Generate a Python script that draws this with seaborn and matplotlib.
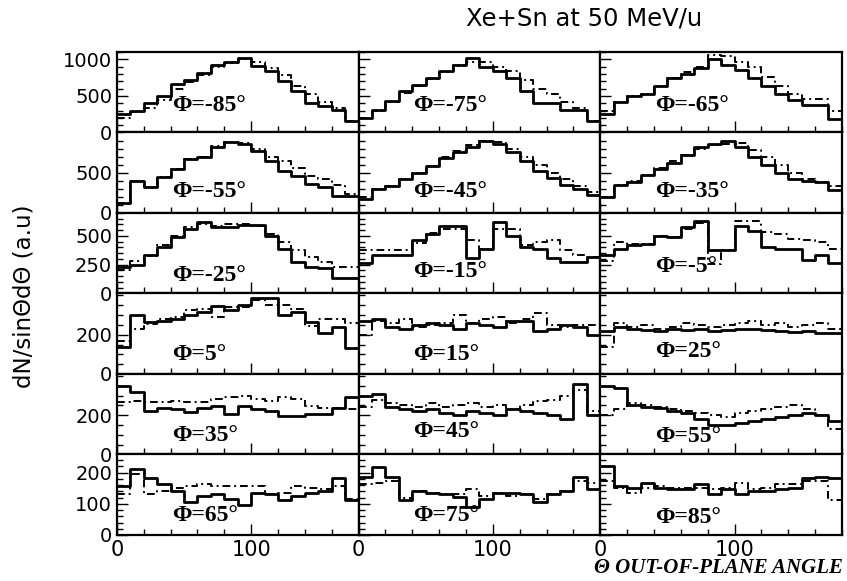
import numpy as np
import pandas as pd
import seaborn as sns
import matplotlib.pyplot as plt
from matplotlib.ticker import MultipleLocator

# 18 bins of 10 degrees in the out-of-plane angle
bin_edges = list(range(0, 190, 10))
bin_centers = [e + 5 for e in bin_edges[:-1]]

# solid = data, dash = second set, one pair per phi window
m85_solid = [247, 288, 400, 493, 657, 712, 812, 927, 963, 1018, 904, 835, 699, 562, 401, 356, 311, 151]
m85_dash = [200, 280, 330, 450, 600, 690, 790, 900, 950, 1000, 960, 880, 780, 640, 520, 410, 330, 160]
m75_solid = [196, 311, 425, 562, 653, 744, 836, 927, 1018, 890, 836, 744, 562, 401, 401, 311, 311, 151]
m75_dash = [196, 300, 420, 540, 640, 730, 830, 920, 960, 960, 900, 840, 720, 600, 520, 420, 330, 160]
m65_solid = [250, 420, 500, 530, 640, 740, 800, 880, 1000, 920, 850, 740, 640, 530, 450, 380, 380, 180]
m65_dash = [300, 420, 500, 530, 640, 740, 820, 900, 1060, 1040, 960, 900, 760, 640, 520, 460, 460, 300]

m55_solid = [129, 400, 317, 442, 546, 671, 696, 817, 888, 858, 775, 650, 525, 463, 358, 317, 213, 213]
m55_dash = [129, 400, 317, 442, 546, 671, 696, 830, 888, 870, 800, 700, 640, 560, 460, 420, 350, 230]
m45_solid = [180, 300, 340, 420, 500, 590, 680, 760, 820, 900, 860, 760, 640, 520, 430, 350, 300, 220]
m45_dash = [200, 300, 340, 420, 500, 590, 690, 770, 840, 900, 880, 800, 700, 600, 500, 420, 340, 260]
m35_solid = [200, 350, 380, 470, 550, 620, 720, 820, 860, 900, 820, 700, 600, 500, 420, 400, 380, 290]
m35_dash = [200, 350, 400, 470, 560, 640, 720, 800, 850, 860, 870, 780, 700, 600, 500, 420, 380, 330]

m25_solid = [233, 248, 333, 404, 490, 561, 618, 575, 575, 595, 595, 504, 390, 276, 233, 222, 137, 137]
m25_dash = [200, 280, 330, 420, 500, 580, 600, 590, 600, 600, 590, 520, 450, 380, 320, 270, 230, 230]
m15_solid = [262, 333, 333, 333, 461, 518, 590, 590, 305, 390, 624, 504, 404, 390, 305, 271, 271, 319]
m15_dash = [376, 376, 376, 376, 440, 530, 560, 560, 461, 390, 561, 561, 418, 447, 461, 376, 333, 319]
m5_solid = [333, 390, 419, 433, 504, 490, 575, 632, 376, 376, 590, 547, 404, 390, 390, 290, 333, 262]
m5_dash = [280, 450, 430, 433, 504, 490, 560, 610, 260, 380, 632, 632, 533, 518, 475, 461, 450, 390]

p5_solid = [140, 298, 263, 272, 281, 298, 316, 346, 325, 351, 386, 386, 298, 316, 263, 210, 237, 132]
p5_dash = [170, 228, 254, 281, 289, 325, 333, 289, 342, 342, 377, 351, 351, 333, 246, 281, 281, 260]
p15_solid = [270, 280, 240, 230, 250, 260, 250, 230, 260, 250, 240, 270, 270, 220, 230, 250, 240, 200]
p15_dash = [200, 270, 260, 280, 240, 250, 260, 300, 260, 280, 290, 260, 280, 310, 250, 240, 250, 250]
p25_solid = [220, 240, 230, 225, 220, 230, 225, 230, 220, 225, 230, 230, 225, 220, 215, 220, 210, 210]
p25_dash = [140, 260, 240, 250, 230, 240, 260, 250, 240, 250, 260, 270, 250, 260, 240, 250, 260, 230]

p35_solid = [350, 316, 222, 239, 231, 214, 239, 248, 205, 248, 231, 222, 197, 197, 205, 205, 239, 291]
p35_dash = [265, 273, 265, 265, 273, 265, 265, 282, 291, 299, 282, 273, 291, 282, 248, 239, 239, 231]
p45_solid = [300, 310, 240, 230, 220, 230, 210, 200, 220, 210, 200, 230, 220, 210, 200, 180, 360, 200]
p45_dash = [240, 280, 260, 250, 240, 260, 240, 250, 260, 240, 250, 230, 250, 270, 280, 300, 330, 220]
p55_solid = [350, 340, 250, 240, 235, 220, 210, 180, 150, 150, 160, 170, 180, 190, 200, 210, 200, 170]
p55_dash = [200, 230, 260, 250, 240, 230, 220, 210, 200, 190, 210, 220, 230, 240, 250, 230, 200, 130]

p65_solid = [157, 212, 182, 162, 141, 106, 126, 131, 116, 96, 136, 131, 111, 126, 136, 141, 182, 111]
p65_dash = [131, 197, 131, 141, 152, 157, 162, 157, 157, 157, 157, 131, 136, 157, 152, 146, 157, 116]
p75_solid = [187, 217, 187, 111, 141, 136, 131, 121, 91, 116, 136, 136, 131, 106, 131, 141, 187, 146]
p75_dash = [162, 167, 172, 120, 141, 136, 131, 131, 146, 125, 136, 126, 131, 116, 131, 141, 172, 166]
p85_solid = [222, 157, 152, 167, 152, 146, 146, 162, 131, 146, 131, 141, 141, 146, 152, 182, 187, 182]
p85_dash = [172, 152, 136, 152, 157, 152, 152, 152, 146, 152, 167, 146, 152, 162, 162, 172, 172, 111]

phi_labels = ['Φ=-85°', 'Φ=-75°', 'Φ=-65°',
              'Φ=-55°', 'Φ=-45°', 'Φ=-35°',
              'Φ=-25°', 'Φ=-15°', 'Φ=-5°',
              'Φ=5°', 'Φ=15°', 'Φ=25°',
              'Φ=35°', 'Φ=45°', 'Φ=55°',
              'Φ=65°', 'Φ=75°', 'Φ=85°']
solid_sets = [m85_solid, m75_solid, m65_solid, m55_solid, m45_solid, m35_solid,
              m25_solid, m15_solid, m5_solid, p5_solid, p15_solid, p25_solid,
              p35_solid, p45_solid, p55_solid, p65_solid, p75_solid, p85_solid]
dash_sets = [m85_dash, m75_dash, m65_dash, m55_dash, m45_dash, m35_dash,
             m25_dash, m15_dash, m5_dash, p5_dash, p15_dash, p25_dash,
             p35_dash, p45_dash, p55_dash, p65_dash, p75_dash, p85_dash]

# per-row y range, major and minor tick steps
row_ymax = [1100, 1000, 700, 410, 410, 258]
row_yticks = [[0, 500, 1000], [0, 500], [0, 250, 500], [0, 200], [0, 200], [0, 100, 200]]
row_minor = [100, 100, 50, 50, 50, 20]
label_y = [[0.33, 0.33, 0.33], [0.27, 0.27, 0.27], [0.22, 0.27, 0.34],
           [0.24, 0.24, 0.28], [0.24, 0.28, 0.22], [0.24, 0.24, 0.22]]

sns.set_style('ticks')
plt.rcParams['font.family'] = ['DejaVu Sans']
plt.rcParams['text.color'] = 'black'
plt.rcParams['xtick.color'] = 'black'
plt.rcParams['ytick.color'] = 'black'
plt.rcParams['axes.edgecolor'] = 'black'

fig, axes = plt.subplots(6, 3, figsize=(8.47, 5.81), dpi=100, sharex=True)
fig.subplots_adjust(left=0.138, right=0.994, top=0.9105, bottom=0.0792,
                    wspace=0, hspace=0)

for i, ax in enumerate(axes.flat):
    row, col = divmod(i, 3)
    df = pd.DataFrame({'angle': bin_centers, 'solid': solid_sets[i], 'dash': dash_sets[i]})
    sns.histplot(data=df, x='angle', weights='dash', bins=bin_edges, element='step',
                 fill=False, color='black', linewidth=1.4,
                 linestyle=(0, (4, 2, 1, 2)), ax=ax)
    sns.histplot(data=df, x='angle', weights='solid', bins=bin_edges, element='step',
                 fill=False, color='black', linewidth=2.0, ax=ax)
    ax.set_xlim(0, 180)
    ax.set_ylim(0, row_ymax[row])
    ax.set_xlabel('')
    ax.set_ylabel('')
    ax.set_xticks([0, 100])
    ax.xaxis.set_minor_locator(MultipleLocator(20))
    ax.set_yticks(row_yticks[row])
    ax.yaxis.set_minor_locator(MultipleLocator(row_minor[row]))
    ax.tick_params(which='both', direction='in', width=1, labelsize=14)
    ax.tick_params(axis='x', labelsize=15)
    ax.tick_params(which='major', length=8)
    ax.tick_params(which='minor', length=4)
    if col > 0:
        ax.tick_params(axis='y', labelleft=False)
    if row < 5:
        ax.tick_params(axis='x', labelbottom=False)
    for sp in ax.spines.values():
        sp.set_visible(True)
        sp.set_linewidth(1.6)
    ax.text(41, label_y[row][col], phi_labels[i], transform=ax.get_xaxis_transform(),
            ha='left', va='center', fontsize=17, fontweight='bold',
            family=['Liberation Serif', 'DejaVu Serif'])

fig.text(0.69, 0.968, 'Xe+Sn at 50 MeV/u', ha='center', va='center', fontsize=17.5)
fig.text(0.028, 0.49, 'dN/sinΘdΘ (a.u)', rotation=90, ha='center', va='center', fontsize=16.5)
fig.text(0.995, 0.022, 'Θ OUT-OF-PLANE ANGLE', ha='right', va='center', fontsize=15,
         fontweight='bold', style='italic', family=['Liberation Serif', 'DejaVu Serif'])

plt.savefig('out.png', dpi=100)
plt.close()
